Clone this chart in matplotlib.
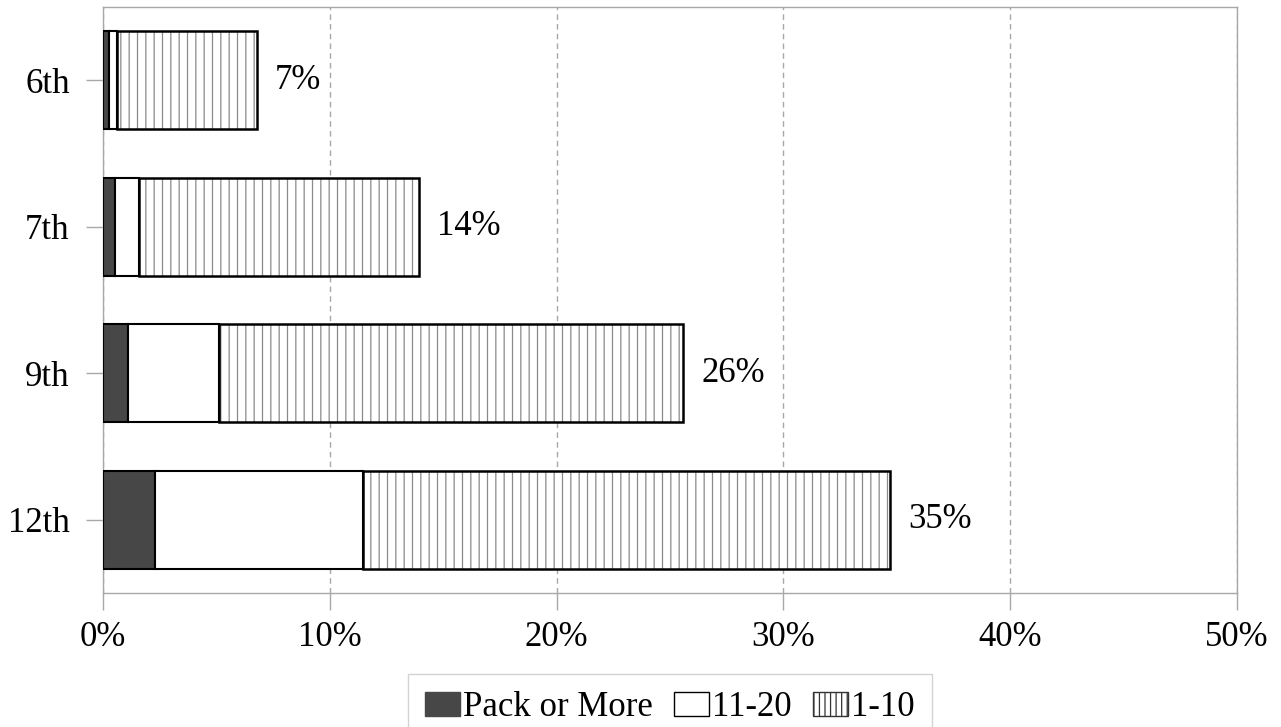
import numpy as np
import matplotlib
matplotlib.use('Agg')
import matplotlib.pyplot as plt
from matplotlib.patches import Patch

grades = ['6th', '7th', '9th', '12th']
pack_or_more = [0.27, 0.53, 1.09, 2.29]
from_11_to_20 = [0.35, 1.06, 4.04, 9.17]
from_1_to_10 = [6.17, 12.34, 20.44, 23.24]
x_ticks = [0, 10, 20, 30, 40, 50]

plt.rcParams['font.family'] = ['Liberation Serif', 'DejaVu Serif']
plt.rcParams['hatch.linewidth'] = 0.9

dark = '#474747'
hatch_grey = '#8a8a8a'
axis_grey = '#a8a8a8'

fig = plt.figure(figsize=(12.81, 7.27), dpi=100)
ax = fig.add_axes([0.0804, 0.1843, 0.8852, 0.8061])

y = np.arange(len(grades))
pack = np.array(pack_or_more)
mid = np.array(from_11_to_20)
low = np.array(from_1_to_10)
total = pack + mid + low
h = 0.67

ax.barh(y, pack, height=h, color=dark, edgecolor='black', lw=1.5, zorder=3)
ax.barh(y, mid, left=pack, height=h, color='white', edgecolor='black', lw=1.5, zorder=3)
# hatch in grey, outline in black on top
ax.barh(y, low, left=pack + mid, height=h, color='white', edgecolor=hatch_grey,
        hatch='||', lw=0, zorder=3)
ax.barh(y, low, left=pack + mid, height=h, fill=False, edgecolor='black', lw=1.8, zorder=4)

for yi, t in zip(y, total):
    ax.text(t + 0.8, yi, '{:.0f}%'.format(t), va='center', ha='left', fontsize=25)

ax.set_ylim(3.5, -0.5)
ax.set_xlim(0, 50)
ax.set_yticks(y)
ax.set_yticklabels(grades)
ax.set_xticks(x_ticks)
ax.set_xticklabels(['{}%'.format(v) for v in x_ticks])
ax.tick_params(axis='both', labelsize=25, length=12, width=1, color=axis_grey, direction='out')
ax.tick_params(axis='y', pad=12)
ax.tick_params(axis='x', pad=8)

ax.xaxis.grid(True, ls=(0, (4, 3)), color=axis_grey, lw=1)
ax.set_axisbelow(True)
for side in ['left', 'right', 'top', 'bottom']:
    ax.spines[side].set_color(axis_grey)
    ax.spines[side].set_linewidth(1)

handles = [Patch(facecolor=dark, edgecolor=dark, label='Pack or More'),
           Patch(facecolor='white', edgecolor='black', label='11-20'),
           Patch(facecolor='white', edgecolor='#333333', hatch='|||', label='1-10')]
leg = fig.legend(handles=handles, loc='lower center', bbox_to_anchor=(0.523, -0.02), ncol=3,
                 fontsize=25, frameon=True, fancybox=False, edgecolor='#c8c8c8',
                 handlelength=1.0, handleheight=0.7, handletextpad=0.1, columnspacing=0.6,
                 borderpad=0.5, borderaxespad=0)
leg.get_frame().set_linewidth(1)

fig.savefig('out.png', dpi=100)
